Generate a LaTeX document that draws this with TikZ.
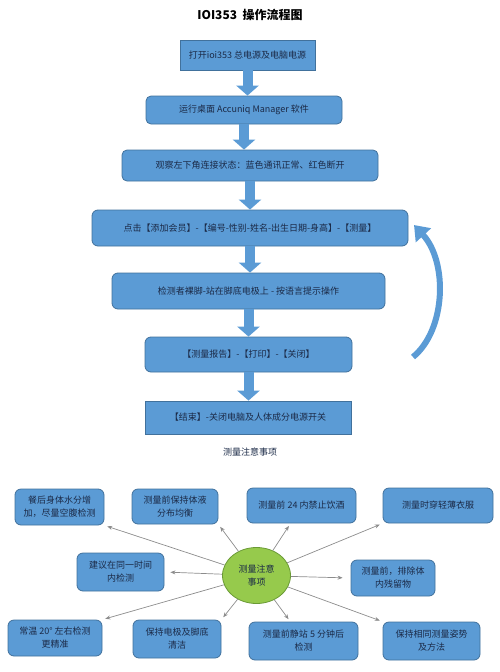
\documentclass[tikz,border=0pt]{standalone}
\usepackage{fontspec}
\setmainfont{Noto Sans CJK SC}
\usetikzlibrary{shapes.geometric,arrows.meta,calc}
\definecolor{boxblue}{HTML}{5B9BD5}
\definecolor{boxedge}{HTML}{41719C}
\definecolor{txtdark}{HTML}{1B2A47}
\definecolor{elgreen}{HTML}{96CA4C}
\definecolor{eledge}{HTML}{6A9A35}
\definecolor{linkgray}{HTML}{8C8C8C}

\begin{document}
\begin{tikzpicture}
[x=1pt,y=-1pt,
 flow/.style={draw=boxedge,fill=boxblue,line width=0.8pt,text=txtdark,
   font=\fontsize{9}{12}\selectfont,inner sep=0pt,align=center},
 note/.style={flow,rounded corners=6pt,font=\fontsize{9}{13}\selectfont},
 blk/.style={boxblue,line width=10pt,-{Triangle[length=10pt,width=22pt]}},
 link/.style={linkgray,line width=0.7pt,-{Stealth[length=5pt,width=4pt]},shorten >=3pt}]
\useasboundingbox (0,0) rectangle (500,672);

\node[font=\fontsize{12}{14}\selectfont\bfseries] (title) at (250,15) {IOI353\ \ 操作流程图};

% flow chart
\node[flow,minimum width=135pt,minimum height=30pt] (f1) at (247.5,55) {打开ioi353 总电源及电脑电源};
\node[flow,rounded corners=5pt,minimum width=196pt,minimum height=28pt] (f2) at (244,110) {运行桌面 Accuniq Manager 软件};
\node[flow,rounded corners=5pt,minimum width=256pt,minimum height=31pt] (f3) at (250,165.5) {观察左下角连接状态：蓝色通讯正常、红色断开};
\node[flow,rounded corners=6pt,minimum width=316pt,minimum height=36pt] (f4) at (250,228) {点击【添加会员】-【编号-性别-姓名-出生日期-身高】-【测量】};
\node[flow,rounded corners=6pt,minimum width=273pt,minimum height=36pt] (f5) at (248.5,291) {检测者裸脚-站在脚底电极上 - 按语言提示操作};
\node[flow,rounded corners=6pt,minimum width=207pt,minimum height=35pt] (f6) at (248.5,354.5) {【测量报告】-【打印】-【关闭】};
\node[flow,minimum width=206pt,minimum height=33pt] (f7) at (248,417.5) {【结束】-关闭电脑及人体成分电源开关};

\draw[blk] (f1.south) -- (f1.south |- f2.north);
\draw[blk] (f2.south) -- (f2.south |- f3.north);
\draw[blk] (f3.south) -- (f3.south |- f4.north);
\draw[blk] (f4.south) -- (f4.south |- f5.north);
\draw[blk] (f5.south) -- (f5.south |- f6.north);
\draw[blk] (f6.south) -- (f6.south |- f7.north);

% loop back
\coordinate (cs) at (413,357);
\coordinate (ce) at (414,225);
\draw[boxblue,line width=6pt,-{Triangle[length=14pt,width=20pt]}]
  (cs) .. controls (446,330) and (448,262) .. (ce);

\node[font=\fontsize{9}{11}\selectfont,text=txtdark] (sub) at (250,452) {测量注意事项};

% notes
\node[ellipse,draw=eledge,fill=elgreen,line width=0.8pt,minimum width=68pt,minimum height=56pt,
  inner sep=0pt,align=center,text=txtdark,font=\fontsize{9}{13}\selectfont] (ell) at (256.5,575.5) {测量注意\\事项};

\node[note,minimum width=89pt,minimum height=36pt] (n1) at (59.5,507) {餐后身体水分增\\加，尽量空腹检测};
\node[note,minimum width=86pt,minimum height=35pt] (n2) at (175,506.5) {测量前保持体液\\分布均衡};
\node[note,minimum width=109pt,minimum height=35pt] (n3) at (301.5,505.5) {测量前 24 内禁止饮酒};
\node[note,minimum width=110pt,minimum height=35pt] (n4) at (438,505.5) {测量时穿轻薄衣服};
\node[note,minimum width=87pt,minimum height=38pt] (n5) at (120.5,572) {建议在同一时间\\内检测};
\node[note,minimum width=84pt,minimum height=36pt] (n6) at (393,578) {测量前，排除体\\内残留物};
\node[note,minimum width=94pt,minimum height=36pt] (n7) at (55,638) {常温 20° 左右检测\\更精准};
\node[note,minimum width=88pt,minimum height=38pt] (n8) at (177,639) {保持电极及脚底\\清洁};
\node[note,minimum width=109pt,minimum height=38pt] (n9) at (303.5,641) {测量前静站 5 分钟后\\检测};
\node[note,minimum width=97pt,minimum height=38pt] (n10) at (431.5,641) {保持相同测量姿势\\及方法};

\draw[link] (ell) -- (n1.south east);
\draw[link] (ell) -- (n2.south east);
\draw[link] (ell) -- ($(n3.south west)!0.4!(n3.south east)$);
\draw[link] (ell) -- (n4.south west);
\draw[link,shorten >=6pt] (ell) -- (n5.east);
\draw[link,shorten >=8pt] (ell) -- (n6.west);
\draw[link] (ell) -- (n7.north east);
\draw[link] (ell) -- (n8.north east);
\draw[link] (ell) -- ($(n9.north west)!0.38!(n9.north east)$);
\draw[link] (ell) -- (n10.north west);
\end{tikzpicture}
\end{document}
